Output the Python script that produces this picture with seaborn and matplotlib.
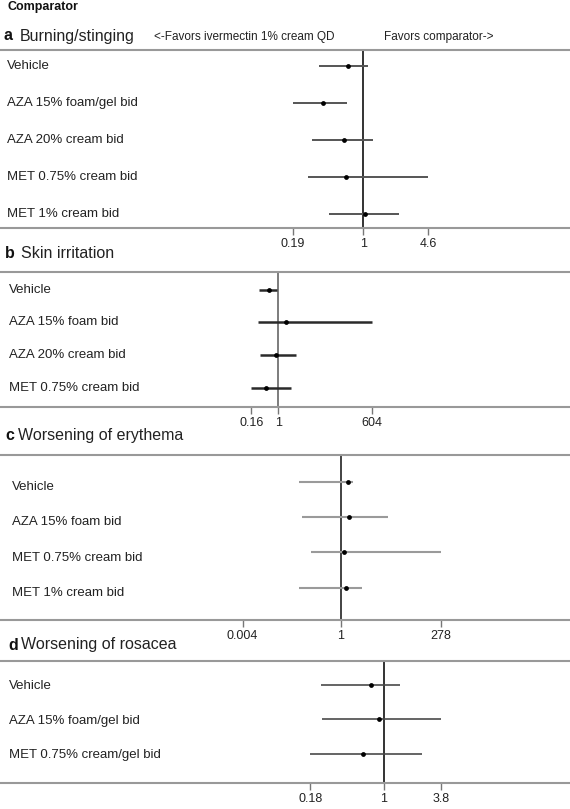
import numpy as np
import pandas as pd
import matplotlib
matplotlib.use("Agg")
import matplotlib.pyplot as plt
import matplotlib.transforms as mtransforms
from matplotlib.ticker import NullLocator
import seaborn as sns

sns.set_theme(style="white")
plt.rcParams["font.family"] = ["Liberation Sans", "DejaVu Sans"]

# ── data (odds ratio, 95% CI) ────────────────────────────────────────────────

A_LABELS = ["Vehicle", "AZA 15% foam/gel bid", "AZA 20% cream bid",
            "MET 0.75% cream bid", "MET 1% cream bid"]
A_EST = [0.70, 0.385, 0.64, 0.66, 1.03]
A_LOW = [0.354, 0.19, 0.30, 0.27, 0.45]
A_HIGH = [1.13, 0.685, 1.27, 4.6, 2.32]
A_TICKS = [0.19, 1, 4.6]
A_TICKLABELS = ["0.19", "1", "4.6"]

B_LABELS = ["Vehicle", "AZA 15% foam bid", "AZA 20% cream bid", "MET 0.75% cream bid"]
B_EST = [0.54, 1.72, 0.885, 0.42]
B_LOW = [0.27, 0.256, 0.29, 0.16]
B_HIGH = [0.95, 604, 3.4, 2.37]
B_TICKS = [0.16, 1, 604]
B_TICKLABELS = ["0.16", "1", "604"]

C_LABELS = ["Vehicle", "AZA 15% foam bid", "MET 0.75% cream bid", "MET 1% cream bid"]
C_EST = [1.53, 1.6, 1.2, 1.39]
C_LOW = [0.097, 0.111, 0.19, 0.095]
C_HIGH = [2.03, 14.6, 278, 3.28]
C_TICKS = [0.004, 1, 278]
C_TICKLABELS = ["0.004", "1", "278"]

D_LABELS = ["Vehicle", "AZA 15% foam/gel bid", "MET 0.75% cream/gel bid"]
D_EST = [0.74, 0.89, 0.61]
D_LOW = [0.23, 0.234, 0.18]
D_HIGH = [1.45, 3.8, 2.41]
D_TICKS = [0.18, 1, 3.8]
D_TICKLABELS = ["0.18", "1", "3.8"]

W, H = 570, 809

PANELS = [
    dict(letter="a", title="Burning/stinging", labels=A_LABELS, est=A_EST, low=A_LOW,
         high=A_HIGH, ticks=A_TICKS, ticklabels=A_TICKLABELS,
         top=50, bottom=228, title_y=36, letter_x=4, title_x=20, label_x=7,
         xlim=(10 ** -3.726, 10 ** 2.12), ylim=(4.378, -0.432), label_dy=0.0,
         ci_color="#555555", ci_lw=1.4, ref_color="#111111"),
    dict(letter="b", title="Skin irritation", labels=B_LABELS, est=B_EST, low=B_LOW,
         high=B_HIGH, ticks=B_TICKS, ticklabels=B_TICKLABELS,
         top=272, bottom=407, title_y=254, letter_x=5, title_x=21, label_x=9,
         xlim=(10 ** -8.23, 10 ** 8.63), ylim=(3.58, -0.535), label_dy=0.0,
         ci_color="#2a2a2a", ci_lw=1.8, ref_color="#666666"),
    dict(letter="c", title="Worsening of erythema", labels=C_LABELS, est=C_EST, low=C_LOW,
         high=C_HIGH, ticks=C_TICKS, ticklabels=C_TICKLABELS,
         top=455, bottom=620, title_y=436, letter_x=5, title_x=18, label_x=12,
         xlim=(10 ** -8.33, 10 ** 5.61), ylim=(3.92, -0.767), label_dy=0.15,
         ci_color="#9a9a9a", ci_lw=1.5, ref_color="#222222"),
    dict(letter="d", title="Worsening of rosacea", labels=D_LABELS, est=D_EST, low=D_LOW,
         high=D_HIGH, ticks=D_TICKS, ticklabels=D_TICKLABELS,
         top=661, bottom=783, title_y=645, letter_x=8, title_x=21, label_x=9,
         xlim=(10 ** -3.88, 10 ** 1.88), ylim=(2.856, -0.69), label_dy=0.05,
         ci_color="#4a4a4a", ci_lw=1.2, ref_color="#111111"),
]


def draw_panel(fig, p):
    ax = fig.add_axes([0, 1 - p["bottom"] / H, 1, (p["bottom"] - p["top"]) / H])
    df = pd.DataFrame({"label": p["labels"], "est": p["est"], "low": p["low"],
                       "high": p["high"], "row": np.arange(len(p["labels"]))})

    ax.axvline(1, color=p["ref_color"], lw=1.2, zorder=1)
    ax.hlines(df["row"], df["low"], df["high"], color=p["ci_color"], lw=p["ci_lw"], zorder=2)
    sns.scatterplot(data=df, x="est", y="row", ax=ax, color="black", s=12,
                    linewidth=0, zorder=3, legend=False)

    ax.set_xscale("log")
    ax.set_xlim(*p["xlim"])
    ax.set_ylim(*p["ylim"])
    ax.xaxis.set_minor_locator(NullLocator())
    ax.set_xticks(p["ticks"])
    ax.set_xticklabels(p["ticklabels"])
    ax.set_yticks([])
    ax.set_xlabel("")
    ax.set_ylabel("")
    ax.tick_params(axis="x", direction="out", length=5, width=1, color="#777777",
                   pad=2.5, labelsize=9, labelcolor="#222222", bottom=True)
    for side in ["left", "right"]:
        ax.spines[side].set_visible(False)
    for side in ["top", "bottom"]:
        ax.spines[side].set_color("#999999")
        ax.spines[side].set_linewidth(1.5)

    trans = mtransforms.blended_transform_factory(fig.transFigure, ax.transData)
    for r, lab in zip(df["row"], df["label"]):
        ax.text(p["label_x"] / W, r + p["label_dy"], lab, transform=trans,
                va="center", ha="left", fontsize=9.5, color="#222222")

    fig.text(p["letter_x"] / W, 1 - p["title_y"] / H, p["letter"], fontsize=11.5,
             fontweight="bold", va="center", ha="left", color="#111111")
    fig.text(p["title_x"] / W, 1 - p["title_y"] / H, p["title"], fontsize=11.5,
             va="center", ha="left", color="#222222")


fig = plt.figure(figsize=(W / 100, H / 100), dpi=100)
fig.text(7 / W, 1 - 7 / H, "Comparator", fontsize=9, fontweight="bold",
         va="center", ha="left", color="#111111")
fig.text(154 / W, 1 - 37 / H, "<-Favors ivermectin 1% cream QD", fontsize=8.5,
         va="center", ha="left", color="#222222")
fig.text(384 / W, 1 - 37 / H, "Favors comparator->", fontsize=8.5,
         va="center", ha="left", color="#222222")

for p in PANELS:
    draw_panel(fig, p)

fig.savefig("out.png", dpi=100)
